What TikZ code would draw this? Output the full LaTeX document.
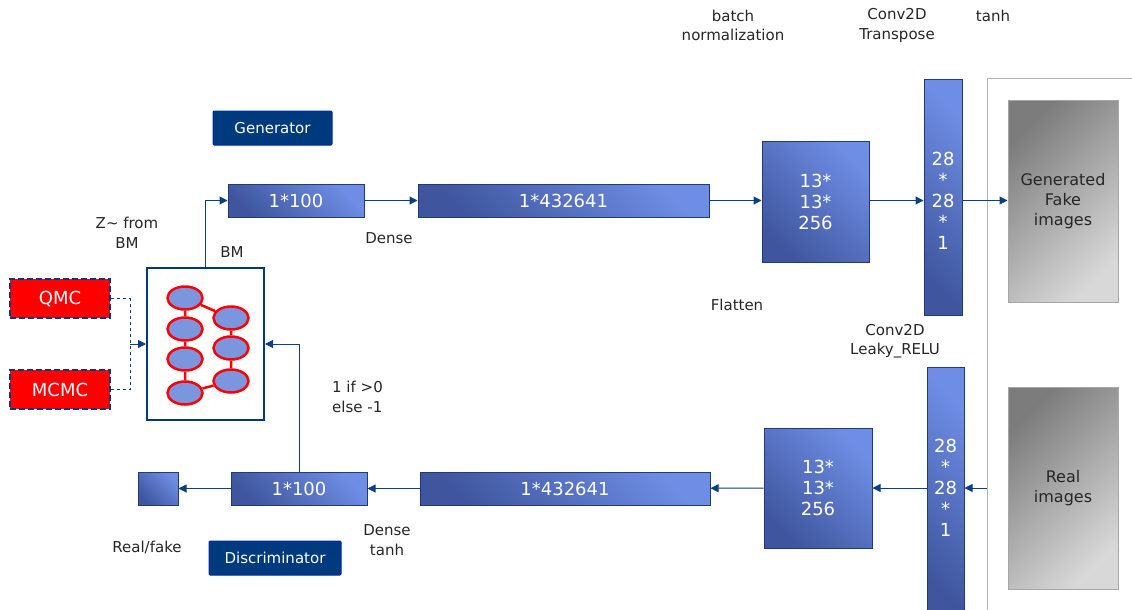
\documentclass[tikz,border=0pt]{standalone}
\usepackage{fontspec}
\setmainfont{DejaVu Sans}
\usetikzlibrary{arrows.meta,shapes.geometric}
\definecolor{blkdark}{HTML}{3F569E}
\definecolor{blklight}{HTML}{6E8DE4}
\definecolor{blkborder}{HTML}{1F3C78}
\definecolor{navy}{HTML}{003A7E}
\definecolor{arrcol}{HTML}{0A3F80}
\definecolor{graydark}{HTML}{7C7C7C}
\definecolor{graylight}{HTML}{D8D8D8}
\definecolor{ellfill}{HTML}{7B96DF}
\begin{document}
\begin{tikzpicture}[x=1pt,y=-1pt,
  blk/.style={draw=blkborder,line width=1pt,bottom color=blkdark,top color=blklight,shading angle=-45,
    inner sep=0pt,text=white,font=\fontsize{18}{21}\selectfont,align=center},
  blktext/.style={text=white,font=\fontsize{18}{21}\selectfont,align=center,inner sep=0pt},
  grayimg/.style={draw=gray!70,line width=1pt,bottom color=graylight,top color=graydark,shading angle=45,
    inner sep=0pt,text=black!85,font=\fontsize{16}{20}\selectfont,align=center},
  tag/.style={draw=blue!30!navy,line width=1pt,fill=navy,text=white,inner sep=0pt,rounded corners=1pt,
    font=\fontsize{15}{18}\selectfont},
  lbl/.style={text=black!85,font=\fontsize{15}{19.5}\selectfont,align=center,inner sep=0pt},
  arr/.style={draw=arrcol,line width=1pt,-{Triangle[length=8pt,width=8pt]}},
  srcbox/.style={draw=navy,line width=2.5pt,dash pattern=on 6pt off 3pt,fill=red,text=white,
    inner sep=0pt,font=\fontsize{18}{21}\selectfont},
  bmn/.style={ellipse,draw=red,line width=2.5pt,fill=ellfill,minimum width=35pt,minimum height=23pt,inner sep=0pt},
  bme/.style={draw=red,line width=2.5pt}
]
\useasboundingbox (0,0) rectangle (1132,610);

% panel
\draw[gray!60,line width=1pt] (987,615) -- (987,78) -- (1140,78);

% generator row
\node[tag,minimum width=119pt,minimum height=34pt] (gen) at (272.5,128) {Generator};
\node[blk,minimum width=136pt,minimum height=33pt] (g100) at (296,200.5) {1*100};
\node[blk,minimum width=291pt,minimum height=33pt] (g432) at (563.5,200.5) {1*432641};
\node[blk,minimum width=107pt,minimum height=121pt] (g13) at (815.5,201.5) {13*\\13*\\256};
\node[blk,minimum width=38pt,minimum height=236pt] (g28) at (943,197) {};
\node[blktext] (g28t) at (943,201) {28\\*\\28\\*\\1};
\node[grayimg,minimum width=110pt,minimum height=202pt] (gfake) at (1063,201) {Generated\\Fake\\images};

% discriminator row
\node[grayimg,minimum width=110pt,minimum height=202pt] (dreal) at (1063,488) {Real\\images};
\node[blk,minimum width=37pt,minimum height=250pt,anchor=north] (d28) at (945.5,367) {};
\node[blktext] (d28t) at (945.5,488) {28\\*\\28\\*\\1};
\node[blk,minimum width=108pt,minimum height=120pt] (d13) at (818,488) {13*\\13*\\256};
\node[blk,minimum width=290pt,minimum height=33pt] (d432) at (565,488.5) {1*432641};
\node[blk,minimum width=136pt,minimum height=33pt] (d100) at (299,488.5) {1*100};
\node[blk,minimum width=40pt,minimum height=33pt] (drf) at (158,488.5) {};
\node[tag,minimum width=132pt,minimum height=34pt] (disc) at (275,558) {Discriminator};
\coordinate (pin) at (987,488);

% BM
\node[draw=navy,line width=2pt,fill=white,minimum width=117pt,minimum height=152pt,inner sep=0pt] (BM) at (205.5,344) {};
\node[bmn] (l1) at (185,298) {};
\node[bmn] (l2) at (185,329) {};
\node[bmn] (l3) at (185,359) {};
\node[bmn] (l4) at (185,393) {};
\node[bmn] (r1) at (231,318) {};
\node[bmn] (r2) at (231,348) {};
\node[bmn] (r3) at (231,381) {};
\draw[bme] (l1) -- (l2) (l2) -- (l3) (l3) -- (l4) (r1) -- (r2) (r2) -- (r3) (l1) -- (r1) (l4) -- (r3);

\node[srcbox,minimum width=100pt,minimum height=39pt] (qmc) at (60,298.5) {QMC};
\node[srcbox,minimum width=100pt,minimum height=39pt] (mcmc) at (60,389.5) {MCMC};
\coordinate (j) at (130,344);

% connectors
\draw[arr] (BM.north) |- (g100.west);
\draw[arr] (g100) -- (g432);
\draw[arr] (g432.east) -- (g13.west |- g432.east);
\draw[arr] (g13.east |- g432.east) -- (g28.west |- g432.east);
\draw[arr] (g28.east |- g432.east) -- (gfake.west |- g432.east);
\draw[arr] (pin) -- (d28.east |- pin);
\draw[arr] (d28.west |- d13) -- (d13);
\draw[arr] (d13) -- (d432);
\draw[arr] (d432) -- (d100);
\draw[arr] (d100) -- (drf);
\draw[arr] (d100.north) |- (BM.east);
\draw[arrcol,line width=1pt,dashed] (qmc.east) -| (j) |- (mcmc.east);
\draw[arr] (j) -- (BM.west);

% labels
\node[lbl] (lbn) at (733,25.5) {batch\\normalization};
\node[lbl] (lct) at (897,25.5) {Conv2D\\Transpose};
\node[lbl] (ltanh) at (993,16) {tanh};
\node[lbl] (lz) at (127,233) {Z\textasciitilde{} from\\BM};
\node[lbl] (lbm) at (232,252) {BM};
\node[lbl] (ldense) at (389,238) {Dense};
\node[lbl] (lflat) at (737,305) {Flatten};
\node[lbl] (lleaky) at (895,341) {Conv2D\\Leaky\_RELU};
\node[lbl,align=left,anchor=west] (lif) at (332,397) {1 if >0\\else -1};
\node[lbl] (ldt) at (387,540) {Dense\\tanh};
\node[lbl] (lrf) at (147,547) {Real/fake};
\end{tikzpicture}
\end{document}
